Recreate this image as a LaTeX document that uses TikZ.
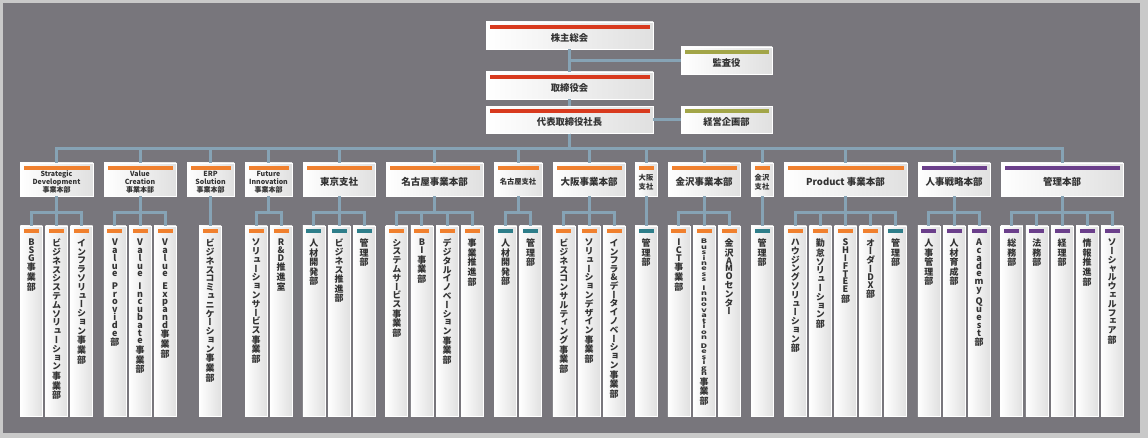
\documentclass[tikz,border=0pt]{standalone}
\usepackage{fontspec}
\usepackage{graphicx}
\setmainfont{Noto Sans CJK JP}
\newfontfamily\vfont[RawFeature=+vert]{Noto Sans CJK JP}
\usetikzlibrary{shadows}

\definecolor{frame}{HTML}{C9C9C9}
\definecolor{panel}{HTML}{78767C}
\definecolor{link}{HTML}{86A3B5}
\definecolor{barred}{HTML}{D83A1E}
\definecolor{barolive}{HTML}{A2A548}
\definecolor{barorange}{HTML}{F0802E}
\definecolor{barteal}{HTML}{2E7E8A}
\definecolor{barpurple}{HTML}{6B3F8B}
\definecolor{boxgray}{HTML}{E0E0E0}
\definecolor{txt}{HTML}{333333}

\newcommand\lbl[2]{\vbox to #1{\kern7pt\vfil\hbox{\begin{tabular}{@{}c@{}}#2\end{tabular}}\vfil}}

\ExplSyntaxOn
\NewDocumentCommand \vt { O{1} m }
  {
    \vbox to 190pt
      {
        \vfont \bfseries \fontsize{9}{10} \selectfont
        \kern 13pt
        \lineskiplimit = -\maxdimen
        \tl_map_inline:nn {#2}
          {
            \int_compare:nNnTF {`##1} < {"2E80}
              {
                \int_compare:nNnTF {`##1} = {126}
                  { \baselineskip = #1 \dimexpr 4.5pt \relax }
                  { \baselineskip = #1 \dimexpr 7.8pt \relax }
                \hbox to 22pt { \hss \scalebox{1}[#1]{##1} \hss }
              }
              {
                \int_compare:nNnTF {`##1} < {"4E00}
                  { \baselineskip = 8.8pt }
                  { \baselineskip = 9.6pt }
                \hbox to 22pt { \hss ##1 \hss }
              }
          }
        \vfill
      }
  }
\ExplSyntaxOff

\begin{document}
\begin{tikzpicture}[x=1pt, y=-1pt,
  conn/.style={draw=link, line width=3pt},
  box/.style={left color=white, right color=boxgray, draw=white, line width=0.8pt, inner sep=0pt, text=txt,
    drop shadow={shadow xshift=0.8pt, shadow yshift=-0.8pt, opacity=0.35},
    path picture={\fill[#1] ([xshift=3.5pt,yshift=-3pt]path picture bounding box.north west)
      rectangle ([xshift=-3.5pt,yshift=-7pt]path picture bounding box.north east);}},
  top/.style={box=barred, minimum width=167pt, font=\bfseries\fontsize{9.3}{11}\selectfont},
  side/.style={box=barolive, minimum width=91pt, font=\bfseries\fontsize{9.3}{11}\selectfont},
  hd/.style={box=#1, font=\bfseries\fontsize{9.5}{11}\selectfont}, hd/.default=barorange,
  en/.style={font=\bfseries\fontsize{7}{7.6}\selectfont},
  sm/.style={font=\bfseries\fontsize{7.3}{9.5}\selectfont},
  sub/.style={box=#1, minimum width=22pt}, sub/.default=barorange]

  \fill[frame] (0,0) rectangle (1148,438);
  \fill[panel] (3,3) rectangle (1140,433);

  \node[top] (s) at (569.5,35.5) {\lbl{27pt}{株主総会}};
  \node[side] (k) at (726.5,60.5) {\lbl{27pt}{監査役}};
  \node[top] (t) at (569.5,85.5) {\lbl{27pt}{取締役会}};
  \node[top] (p) at (569.5,120) {\lbl{27pt}{代表取締役社長}};
  \node[side] (q) at (726.5,120) {\lbl{27pt}{経営企画部}};

  \node[hd, en, minimum width=73pt] (a) at (56.5,179.5) {\lbl{33pt}{Strategic\\Development\\事業本部}};
  \node[hd, en, minimum width=72pt] (b) at (140,179.5) {\lbl{33pt}{Value\\Creation\\事業本部}};
  \node[hd, en, minimum width=47pt] (c) at (210.5,179.5) {\lbl{33pt}{ERP\\Solution\\事業本部}};
  \node[hd, en, minimum width=47pt] (d) at (268.5,179.5) {\lbl{33pt}{Future\\Innovation\\事業本部}};
  \node[hd, minimum width=72pt] (e) at (339,179.5) {\lbl{33pt}{東京支社}};
  \node[hd, minimum width=97pt] (f) at (434.5,179.5) {\lbl{33pt}{名古屋事業本部}};
  \node[hd, sm, minimum width=48pt] (g) at (518,179.5) {\lbl{33pt}{名古屋支社}};
  \node[hd, minimum width=72pt] (h) at (589,179.5) {\lbl{33pt}{大阪事業本部}};
  \node[hd, sm, minimum width=22pt] (i) at (646,179.5) {\lbl{33pt}{大阪\\支社}};
  \node[hd, minimum width=72pt] (j) at (704,179.5) {\lbl{33pt}{金沢事業本部}};
  \node[hd, sm, minimum width=22pt] (l) at (762,179.5) {\lbl{33pt}{金沢\\支社}};
  \node[hd, minimum width=123pt] (m) at (845.5,179.5) {\lbl{33pt}{Product 事業本部}};
  \node[hd=barpurple, minimum width=72pt] (n) at (954,179.5) {\lbl{33pt}{人事戦略本部}};
  \node[hd=barpurple, minimum width=122pt] (o) at (1062,179.5) {\lbl{33pt}{管理本部}};

  \node[sub] (a1) at (31.4,321) {\vt{BSG事業部}};
  \node[sub] (a2) at (56.5,321) {\vt{ビジネスシステムソリューション事業部}};
  \node[sub] (a3) at (81.6,321) {\vt{インフラソリューション事業部}};
  \node[sub] (b1) at (114.9,321) {\vt{Value~Provide部}};
  \node[sub] (b2) at (140,321) {\vt{Value~Incubate事業部}};
  \node[sub] (b3) at (165.1,321) {\vt{Value~Expand事業部}};
  \node[sub] (c1) at (210,321) {\vt{ビジネスコミュニケーション事業部}};
  \node[sub] (d1) at (256,321) {\vt{ソリューションサービス事業部}};
  \node[sub] (d2) at (281,321) {\vt{R\&D推進室}};
  \node[sub=barteal] (e1) at (313.9,321) {\vt{人材開発部}};
  \node[sub=barteal] (e2) at (339,321) {\vt{ビジネス推進部}};
  \node[sub=barteal] (e3) at (364.1,321) {\vt{管理部}};
  \node[sub] (f1) at (396.8,321) {\vt{システムサービス事業部}};
  \node[sub] (f2) at (421.9,321) {\vt{BI事業部}};
  \node[sub] (f3) at (447.1,321) {\vt{デジタルイノベーション事業部}};
  \node[sub] (f4) at (472.2,321) {\vt{事業推進部}};
  \node[sub=barteal] (g1) at (505.5,321) {\vt{人材開発部}};
  \node[sub=barteal] (g2) at (530.5,321) {\vt{管理部}};
  \node[sub] (h1) at (563.9,321) {\vt{ビジネスコンサルティング事業部}};
  \node[sub] (h2) at (589,321) {\vt{ソリューションデザイン事業部}};
  \node[sub] (h3) at (614.1,321) {\vt{インフラ\&データイノベーション事業部}};
  \node[sub=barteal] (i1) at (646,321) {\vt{管理部}};
  \node[sub] (j1) at (678.9,321) {\vt{ICT事業部}};
  \node[sub] (j2) at (704,321) {\vt[0.7]{Business~Innovation~Design事業部}};
  \node[sub] (j3) at (729.1,321) {\vt{金沢AMOセンター}};
  \node[sub=barteal] (l1) at (762,321) {\vt{管理部}};
  \node[sub] (m1) at (795.3,321) {\vt{ハウジングソリューション部}};
  \node[sub] (m2) at (820.4,321) {\vt{勤怠ソリューション部}};
  \node[sub] (m3) at (845.5,321) {\vt{SHIFTEE部}};
  \node[sub] (m4) at (870.6,321) {\vt{オーダーDX部}};
  \node[sub=barteal] (m5) at (895.7,321) {\vt{管理部}};
  \node[sub=barpurple] (n1) at (928.9,321) {\vt{人事管理部}};
  \node[sub=barpurple] (n2) at (954,321) {\vt{人材育成部}};
  \node[sub=barpurple] (n3) at (979.1,321) {\vt{Academy~Quest部}};
  \node[sub=barpurple] (o1) at (1011.8,321) {\vt{総務部}};
  \node[sub=barpurple] (o2) at (1036.9,321) {\vt{法務部}};
  \node[sub=barpurple] (o3) at (1062,321) {\vt{経理部}};
  \node[sub=barpurple] (o4) at (1087.1,321) {\vt{情報推進部}};
  \node[sub=barpurple] (o5) at (1112.2,321) {\vt{ソーシャルウェルフェア部}};

  \draw[conn] (s) -- (t);
  \draw[conn] (k.west -| s.south) -- (k);
  \draw[conn] (t) -- (p);
  \draw[conn] (p) -- (q);

  \draw[conn] (p.south) -- ++(0,14.5) -| (a.north);
  \draw[conn] (p.south) -- ++(0,14.5) -| (b.north);
  \draw[conn] (p.south) -- ++(0,14.5) -| (c.north);
  \draw[conn] (p.south) -- ++(0,14.5) -| (d.north);
  \draw[conn] (p.south) -- ++(0,14.5) -| (e.north);
  \draw[conn] (p.south) -- ++(0,14.5) -| (f.north);
  \draw[conn] (p.south) -- ++(0,14.5) -| (g.north);
  \draw[conn] (p.south) -- ++(0,14.5) -| (h.north);
  \draw[conn] (p.south) -- ++(0,14.5) -| (i.north);
  \draw[conn] (p.south) -- ++(0,14.5) -| (j.north);
  \draw[conn] (p.south) -- ++(0,14.5) -| (l.north);
  \draw[conn] (p.south) -- ++(0,14.5) -| (m.north);
  \draw[conn] (p.south) -- ++(0,14.5) -| (n.north);
  \draw[conn] (p.south) -- ++(0,14.5) -| (o.north);

  \draw[conn] (a.south) -- ++(0,16) -| (a1.north);
  \draw[conn] (a.south) -- ++(0,16) -| (a2.north);
  \draw[conn] (a.south) -- ++(0,16) -| (a3.north);
  \draw[conn] (b.south) -- ++(0,16) -| (b1.north);
  \draw[conn] (b.south) -- ++(0,16) -| (b2.north);
  \draw[conn] (b.south) -- ++(0,16) -| (b3.north);
  \draw[conn] (c.south) -- ++(0,16) -| (c1.north);
  \draw[conn] (d.south) -- ++(0,16) -| (d1.north);
  \draw[conn] (d.south) -- ++(0,16) -| (d2.north);
  \draw[conn] (e.south) -- ++(0,16) -| (e1.north);
  \draw[conn] (e.south) -- ++(0,16) -| (e2.north);
  \draw[conn] (e.south) -- ++(0,16) -| (e3.north);
  \draw[conn] (f.south) -- ++(0,16) -| (f1.north);
  \draw[conn] (f.south) -- ++(0,16) -| (f2.north);
  \draw[conn] (f.south) -- ++(0,16) -| (f3.north);
  \draw[conn] (f.south) -- ++(0,16) -| (f4.north);
  \draw[conn] (g.south) -- ++(0,16) -| (g1.north);
  \draw[conn] (g.south) -- ++(0,16) -| (g2.north);
  \draw[conn] (h.south) -- ++(0,16) -| (h1.north);
  \draw[conn] (h.south) -- ++(0,16) -| (h2.north);
  \draw[conn] (h.south) -- ++(0,16) -| (h3.north);
  \draw[conn] (i.south) -- ++(0,16) -| (i1.north);
  \draw[conn] (j.south) -- ++(0,16) -| (j1.north);
  \draw[conn] (j.south) -- ++(0,16) -| (j2.north);
  \draw[conn] (j.south) -- ++(0,16) -| (j3.north);
  \draw[conn] (l.south) -- ++(0,16) -| (l1.north);
  \draw[conn] (m.south) -- ++(0,16) -| (m1.north);
  \draw[conn] (m.south) -- ++(0,16) -| (m2.north);
  \draw[conn] (m.south) -- ++(0,16) -| (m3.north);
  \draw[conn] (m.south) -- ++(0,16) -| (m4.north);
  \draw[conn] (m.south) -- ++(0,16) -| (m5.north);
  \draw[conn] (n.south) -- ++(0,16) -| (n1.north);
  \draw[conn] (n.south) -- ++(0,16) -| (n2.north);
  \draw[conn] (n.south) -- ++(0,16) -| (n3.north);
  \draw[conn] (o.south) -- ++(0,16) -| (o1.north);
  \draw[conn] (o.south) -- ++(0,16) -| (o2.north);
  \draw[conn] (o.south) -- ++(0,16) -| (o3.north);
  \draw[conn] (o.south) -- ++(0,16) -| (o4.north);
  \draw[conn] (o.south) -- ++(0,16) -| (o5.north);
\end{tikzpicture}
\end{document}
